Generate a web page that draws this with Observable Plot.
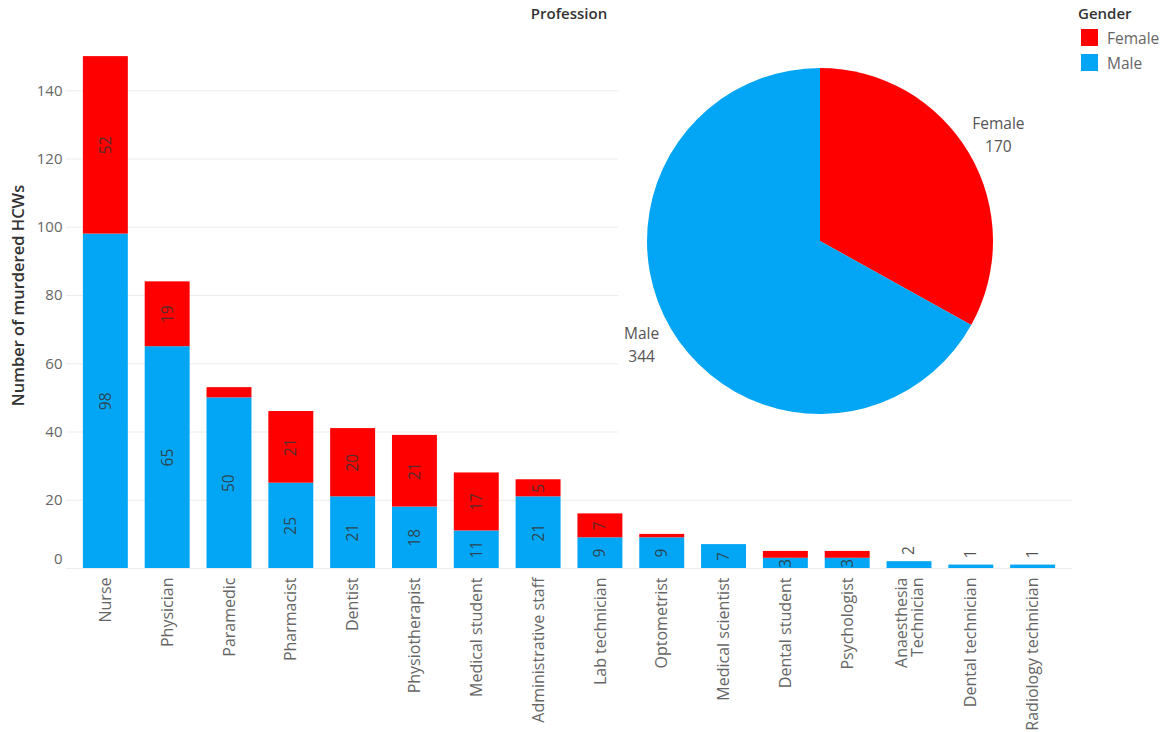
<!DOCTYPE html>
<html>
<head>
<meta charset="utf-8">
<script src="https://cdn.jsdelivr.net/npm/d3@7"></script>
<script src="https://cdn.jsdelivr.net/npm/@observablehq/plot@0.6"></script>
<style>
  body { margin: 0; background: #fff; font-family: "Open Sans", sans-serif; }
  #wrap { position: relative; width: 1164px; height: 732px; overflow: hidden; }
  #chart { position: absolute; left: 0; top: 0; }
  #pie { position: absolute; left: 0; top: 0; }
  #title { position: absolute; left: 469px; top: 3px; width: 200px; text-align: center;
           font-size: 15px; font-weight: 600; color: #333; }
  #legend { position: absolute; left: 1078px; top: 3px; font-size: 15.5px; color: #666; }
  #legend .head { font-weight: 600; color: #333; font-size: 15px; margin-bottom: 2px; }
  #legend .row { display: flex; align-items: center; height: 25px; }
  #legend .sw { width: 17px; height: 17px; margin-left: 3px; margin-right: 9px; }
</style>
</head>
<body>
<div id="wrap">
  <div id="chart"></div>
  <div id="pie"></div>
  <div id="title">Profession</div>
  <div id="legend"></div>
</div>
<script>
const professions = ["Nurse", "Physician", "Paramedic", "Pharmacist", "Dentist", "Physiotherapist",
  "Medical student", "Administrative staff", "Lab technician", "Optometrist", "Medical scientist",
  "Dental student", "Psychologist", "Anaesthesia Technician", "Dental technician", "Radiology technician"];
const maleCounts   = [98, 65, 50, 25, 21, 18, 11, 21, 9, 9, 7, 3, 3, 2, 1, 1];
const femaleCounts = [52, 19, 3, 21, 20, 21, 17, 5, 7, 1, 0, 2, 2, 0, 0, 0];
const genders = ["Female", "Male"];
const genderColors = ["#ff0000", "#03a6f5"];
const genderTotals = [170, 344];
const yTicks = [0, 20, 40, 60, 80, 100, 120, 140];

const rows = [];
professions.forEach((p, i) => {
  rows.push({profession: p, gender: "Male", value: maleCounts[i], total: maleCounts[i] + femaleCounts[i]});
  rows.push({profession: p, gender: "Female", value: femaleCounts[i], total: maleCounts[i] + femaleCounts[i]});
});
const midLabel = d => (d.gender === "Male" ? d.value >= 3 : d.value >= 5) ? String(d.value) : "";
const smallMale = rows.filter(d => d.gender === "Male" && d.value > 0 && d.value < 3);

const chart = Plot.plot({
  width: 1164,
  height: 732,
  marginLeft: 66,
  marginRight: 92,
  marginTop: 22,
  marginBottom: 164,
  style: {fontFamily: "Open Sans", fontSize: "15px", color: "#666", background: "#fff"},
  x: {domain: professions, padding: 0.273, round: false},
  y: {domain: [0, 160]},
  color: {domain: genders, range: genderColors},
  marks: [
    Plot.gridY(yTicks, {stroke: "#ececec", strokeOpacity: 1}),
    Plot.barY(rows, {x: "profession", y: "value", fill: "gender", z: "gender", order: ["Male", "Female"]}),
    Plot.text(rows, Plot.stackY({x: "profession", y: "value", z: "gender", order: ["Male", "Female"],
      text: midLabel, rotate: -90, fill: "#333", fillOpacity: 0.85, fontSize: 15.5})),
    Plot.text(smallMale, {x: "profession", y: "total", text: d => String(d.value), rotate: -90,
      dy: -11, fill: "#333", fillOpacity: 0.85, fontSize: 15.5}),
    Plot.axisY(yTicks.filter(t => t > 0), {tickSize: 0, tickPadding: 4, label: null, fontSize: 15}),
    Plot.axisY([0], {tickSize: 0, tickPadding: 4, label: null, dy: -9, fontSize: 15}),
    Plot.axisX({tickSize: 0, tickPadding: 9, tickRotate: -90, label: null, fontSize: 16,
      tickFormat: d => d === "Anaesthesia Technician" ? "Anaesthesia\nTechnician" : d}),
    Plot.text(["Number of murdered HCWs"], {frameAnchor: "left", textAnchor: "middle", dx: -48, rotate: -90,
      fill: "#333", fontWeight: 600, fontSize: 16.5})
  ]
});
document.getElementById("chart").appendChild(chart);

// Pie
const pieW = 1164;
const cx = 820, cy = 241, r = 173;
const svg = d3.select("#pie").append("svg").attr("width", pieW).attr("height", 447)
  .attr("viewBox", `0 0 ${pieW} 447`);
svg.append("rect").attr("x", 618).attr("y", 0).attr("width", pieW - 618).attr("height", 447).attr("fill", "#fff");
const pieData = genders.map((g, i) => ({gender: g, value: genderTotals[i], color: genderColors[i]}));
const arcs = d3.pie().sort(null).value(d => d.value)(pieData);
const arc = d3.arc().innerRadius(0).outerRadius(r);
const labelArc = d3.arc().innerRadius(207).outerRadius(207);
const g = svg.append("g").attr("transform", `translate(${cx},${cy})`);
g.selectAll("path").data(arcs).join("path").attr("d", arc).attr("fill", d => d.data.color);
const lab = g.selectAll("text").data(arcs).join("text")
  .attr("transform", d => `translate(${labelArc.centroid(d)})`)
  .attr("text-anchor", "middle")
  .attr("font-family", "Open Sans").attr("font-size", 15.5).attr("fill", "#555");
lab.append("tspan").attr("x", 0).attr("dy", "-0.45em").text(d => d.data.gender);
lab.append("tspan").attr("x", 0).attr("dy", "1.5em").text(d => d.data.value);

// Legend
const legend = d3.select("#legend");
legend.append("div").attr("class", "head").text("Gender");
genders.forEach((gname, i) => {
  const row = legend.append("div").attr("class", "row");
  row.append("div").attr("class", "sw").style("background", genderColors[i]);
  row.append("span").text(gname);
});
</script>
</body>
</html>
